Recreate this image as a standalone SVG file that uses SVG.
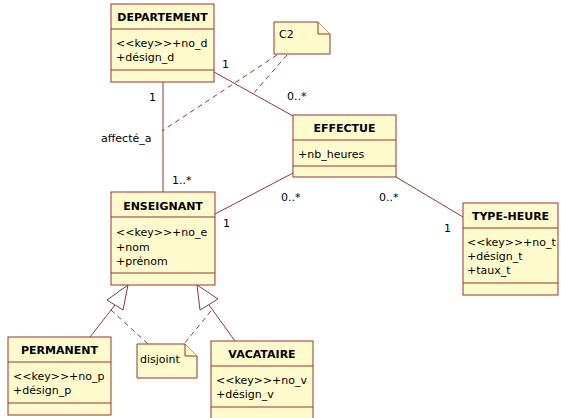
<svg xmlns="http://www.w3.org/2000/svg" width="561" height="418" viewBox="0 0 561 418">
  <style>
    .box { fill: #FFFBCC; stroke: #993333; stroke-width: 1; }
    .sep { stroke: #993333; stroke-width: 1; }
    .title { font-family: "DejaVu Sans", Verdana, sans-serif; font-size: 11px; font-weight: bold; fill: #000; text-anchor: middle; }
    .attr { font-family: "DejaVu Sans", Verdana, sans-serif; font-size: 11px; fill: #000; }
    .lbl { font-family: "DejaVu Sans", Verdana, sans-serif; font-size: 11px; fill: #000; }
    .assoc { stroke: #8B3A3A; stroke-width: 1; fill: none; }
    .dash { stroke: #8B3A3A; stroke-width: 1; fill: none; stroke-dasharray: 5 4; }
    .gen { stroke: #8B3A3A; stroke-width: 1; fill: #fff; }
    .note { fill: #FFFBCC; stroke: #993333; stroke-width: 1; }
  </style>

  <!-- associations, generalizations and note links -->
  <g id="connectors">
    <line class="assoc" x1="163" y1="82" x2="163" y2="192"/>
    <line class="assoc" x1="214" y1="72" x2="293" y2="116"/>
    <line class="assoc" x1="215" y1="214" x2="293" y2="173"/>
    <line class="assoc" x1="396" y1="177" x2="463" y2="217"/>
    <line class="dash" x1="277" y1="55" x2="162" y2="131"/>
    <line class="dash" x1="287" y1="55" x2="253" y2="94"/>
    <!-- generalizations -->
    <line class="assoc" x1="115" y1="305" x2="90" y2="337"/>
    <polygon class="gen" points="128,285 107,300 123,310"/>
    <line class="assoc" x1="209" y1="305" x2="235" y2="341"/>
    <polygon class="gen" points="197,285 200,310 218,299"/>
    <line class="dash" x1="111" y1="310" x2="148" y2="344"/>
    <line class="dash" x1="211" y1="311" x2="184" y2="344"/>
    <!-- labels -->
    <text class="lbl" x="149" y="101">1</text>
    <text class="lbl" x="101" y="142">affecté_a</text>
    <text class="lbl" x="172" y="184">1..*</text>
    <text class="lbl" x="222" y="68">1</text>
    <text class="lbl" x="287" y="100">0..*</text>
    <text class="lbl" x="223" y="227">1</text>
    <text class="lbl" x="281" y="201">0..*</text>
    <text class="lbl" x="379" y="201">0..*</text>
    <text class="lbl" x="444" y="232">1</text>
  </g>

  <g id="departement">
    <rect class="box" x="111" y="4" width="103" height="78"/>
    <line class="sep" x1="111" y1="29" x2="214" y2="29"/>
    <line class="sep" x1="111" y1="70" x2="214" y2="70"/>
    <text class="title" x="162.5" y="21">DEPARTEMENT</text>
    <text class="attr" x="116" y="47">&lt;&lt;key&gt;&gt;+no_d</text>
    <text class="attr" x="116" y="61">+désign_d</text>
  </g>

  <g id="effectue">
    <rect class="box" x="293" y="115" width="103" height="62"/>
    <line class="sep" x1="293" y1="140" x2="396" y2="140"/>
    <line class="sep" x1="293" y1="166" x2="396" y2="166"/>
    <text class="title" x="344.5" y="132">EFFECTUE</text>
    <text class="attr" x="298" y="158">+nb_heures</text>
  </g>

  <g id="enseignant">
    <rect class="box" x="111" y="192" width="104" height="93"/>
    <line class="sep" x1="111" y1="217" x2="215" y2="217"/>
    <line class="sep" x1="111" y1="273" x2="215" y2="273"/>
    <text class="title" x="163" y="210">ENSEIGNANT</text>
    <text class="attr" x="116" y="236">&lt;&lt;key&gt;&gt;+no_e</text>
    <text class="attr" x="116" y="251">+nom</text>
    <text class="attr" x="116" y="265">+prénom</text>
  </g>

  <g id="type-heure">
    <rect class="box" x="463" y="203" width="95" height="92"/>
    <line class="sep" x1="463" y1="228" x2="558" y2="228"/>
    <line class="sep" x1="463" y1="283" x2="558" y2="283"/>
    <text class="title" x="510.5" y="220">TYPE-HEURE</text>
    <text class="attr" x="467" y="246">&lt;&lt;key&gt;&gt;+no_t</text>
    <text class="attr" x="467" y="260">+désign_t</text>
    <text class="attr" x="467" y="274">+taux_t</text>
  </g>

  <g id="permanent">
    <rect class="box" x="8" y="337" width="103" height="78"/>
    <line class="sep" x1="8" y1="362" x2="111" y2="362"/>
    <line class="sep" x1="8" y1="403" x2="111" y2="403"/>
    <text class="title" x="59.5" y="354">PERMANENT</text>
    <text class="attr" x="13" y="380">&lt;&lt;key&gt;&gt;+no_p</text>
    <text class="attr" x="13" y="394">+désign_p</text>
  </g>

  <g id="vacataire">
    <rect class="box" x="211" y="341" width="102" height="78"/>
    <line class="sep" x1="211" y1="366" x2="313" y2="366"/>
    <line class="sep" x1="211" y1="407" x2="313" y2="407"/>
    <text class="title" x="262" y="358">VACATAIRE</text>
    <text class="attr" x="216" y="384">&lt;&lt;key&gt;&gt;+no_v</text>
    <text class="attr" x="216" y="398">+désign_v</text>
  </g>

  <g id="note-c2">
    <path class="note" d="M274,22 H318 L330,34 V54 H274 Z"/>
    <path class="note" d="M318,22 V34 H330"/>
    <text class="attr" x="279" y="38">C2</text>
  </g>

  <g id="note-disjoint">
    <path class="note" d="M137,344 H185 L197,356 V378 H137 Z"/>
    <path class="note" d="M185,344 V356 H197"/>
    <text class="attr" x="140" y="363">disjoint</text>
  </g>
</svg>
